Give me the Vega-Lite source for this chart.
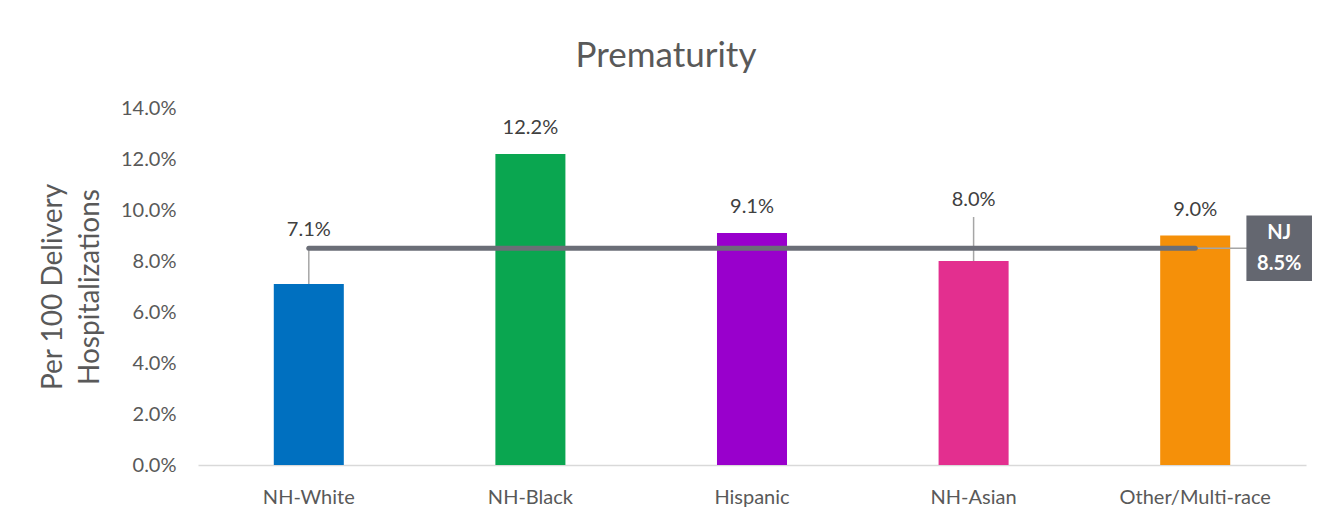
{
  "$schema": "https://vega.github.io/schema/vega-lite/v6.json",
  "width": 1108,
  "height": 357,
  "autosize": {"type": "none"},
  "padding": {"left": 198, "top": 108, "right": 30, "bottom": 54},
  "background": "white",
  "config": {"view": {"stroke": null}, "font": "Lato"},
  "title": {"text": "Prematurity", "fontSize": 35, "fontWeight": "normal", "color": "#595959", "anchor": "middle", "frame": "group", "offset": 24, "dx": -86, "font": "Lato"},
  "datasets": {
    "bars": [
      {"cat": "NH-White", "value": 0.071},
      {"cat": "NH-Black", "value": 0.122},
      {"cat": "Hispanic", "value": 0.091},
      {"cat": "NH-Asian", "value": 0.080},
      {"cat": "Other/Multi-race", "value": 0.090}
    ],
    "nj": [
      {"name": "NJ", "start": "NH-White", "cat": "Other/Multi-race", "value": 0.085}
    ]
  },
  "encoding": {
    "x": {"field": "cat", "type": "nominal", "sort": null,
      "scale": {"domain": ["NH-White", "NH-Black", "Hispanic", "NH-Asian", "Other/Multi-race"], "paddingInner": 0.684, "paddingOuter": 0.342},
      "axis": {"title": null, "labelAngle": 0, "ticks": false, "domainColor": "#D9D9D9", "domainWidth": 1.5, "labelPadding": 22, "labelFontSize": 20, "labelColor": "#595959", "labelFont": "Lato", "grid": false}},
    "y": {"field": "value", "type": "quantitative", "scale": {"domain": [0, 0.14], "nice": false},
      "axis": {"title": ["Per 100 Delivery", "Hospitalizations"], "titleFontSize": 28, "titleFontWeight": "normal", "titleColor": "#595959", "titleFont": "Lato", "titleLineHeight": 37, "titlePadding": 16,
        "values": [0, 0.02, 0.04, 0.06, 0.08, 0.1, 0.12, 0.14], "format": ".1%", "domain": false, "ticks": false, "grid": false, "labelPadding": 22, "labelFontSize": 20, "labelColor": "#595959", "labelFont": "Lato"}}
  },
  "layer": [
    {
      "data": {"name": "bars"},
      "mark": {"type": "bar"},
      "encoding": {
        "color": {"field": "cat", "type": "nominal", "legend": null,
          "scale": {"domain": ["NH-White", "NH-Black", "Hispanic", "NH-Asian", "Other/Multi-race"], "range": ["#0070C0", "#0AA650", "#9900CC", "#E32F8F", "#F59009"]}}
      }
    },
    {
      "data": {"name": "bars"},
      "transform": [{"filter": "datum.cat === 'NH-White'"}],
      "mark": {"type": "rule", "color": "#A6A6A6", "strokeWidth": 1.5, "y2Offset": -36},
      "encoding": {"y2": {"field": "value"}}
    },
    {
      "data": {"name": "bars"},
      "transform": [{"filter": "datum.cat === 'NH-Asian'"}],
      "mark": {"type": "rule", "color": "#A6A6A6", "strokeWidth": 1.5, "y2Offset": -44},
      "encoding": {"y2": {"field": "value"}}
    },
    {
      "data": {"name": "nj"},
      "mark": {"type": "rule", "color": "#A6A6A6", "strokeWidth": 1.5, "x2Offset": 52},
      "encoding": {"x2": {"field": "cat"}}
    },
    {
      "data": {"name": "nj"},
      "mark": {"type": "rule", "color": "#6B6E77", "strokeWidth": 5, "strokeCap": "round"},
      "encoding": {"x": {"field": "start", "type": "nominal"}, "x2": {"field": "cat"}}
    },
    {
      "data": {"name": "nj"},
      "mark": {"type": "point", "shape": "square", "filled": true, "color": "#646770", "opacity": 1, "size": 4300, "xOffset": 84},
      "encoding": {}
    },
    {
      "data": {"name": "nj"},
      "mark": {"type": "text", "color": "white", "fontWeight": "bold", "fontSize": 20, "font": "Lato", "dx": 84, "dy": -15, "baseline": "middle"},
      "encoding": {"text": {"field": "name"}}
    },
    {
      "data": {"name": "nj"},
      "mark": {"type": "text", "color": "white", "fontWeight": "bold", "fontSize": 20, "font": "Lato", "dx": 84, "dy": 16, "baseline": "middle"},
      "encoding": {"text": {"field": "value", "format": ".1%"}}
    },
    {
      "data": {"name": "bars"},
      "transform": [{"filter": "datum.cat !== 'NH-White' && datum.cat !== 'NH-Asian'"}],
      "mark": {"type": "text", "color": "#404040", "fontSize": 20, "font": "Lato", "dy": -26, "baseline": "middle"},
      "encoding": {"text": {"field": "value", "format": ".1%"}}
    },
    {
      "data": {"name": "bars"},
      "transform": [{"filter": "datum.cat === 'NH-White'"}],
      "mark": {"type": "text", "color": "#404040", "fontSize": 20, "font": "Lato", "dy": -54, "baseline": "middle"},
      "encoding": {"text": {"field": "value", "format": ".1%"}}
    },
    {
      "data": {"name": "bars"},
      "transform": [{"filter": "datum.cat === 'NH-Asian'"}],
      "mark": {"type": "text", "color": "#404040", "fontSize": 20, "font": "Lato", "dy": -61, "baseline": "middle"},
      "encoding": {"text": {"field": "value", "format": ".1%"}}
    }
  ]
}
